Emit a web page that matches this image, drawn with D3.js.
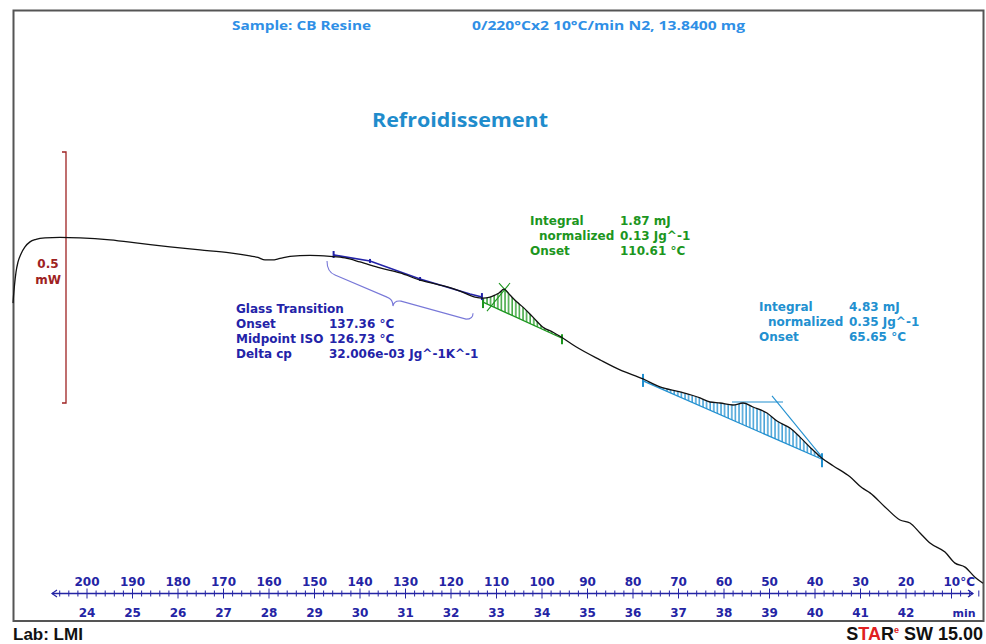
<!DOCTYPE html>
<html>
<head>
<meta charset="utf-8">
<script src="https://cdn.jsdelivr.net/npm/d3@7/dist/d3.min.js"></script>
<style>
  body { margin: 0; background: #fff; }
  svg { display: block; }
</style>
</head>
<body>
<svg id="chart" width="986" height="644"></svg>
<script>
// ---------------- DATA ----------------
// DSC cooling curve: time (min) vs heat flow (mW, arbitrary offset)
const timeMin = [22.374, 22.385, 22.407, 22.440, 22.484, 22.549, 22.637, 22.747, 22.879, 23.077,
  23.407, 23.846, 24.505, 25.165, 25.824, 26.484, 27.143, 27.582, 27.758, 27.912,
  28.066, 28.242, 28.462, 28.901, 29.341, 29.670, 30.000, 30.440, 30.879, 31.319,
  31.758, 32.198, 32.527, 32.703, 32.857, 32.967, 33.055, 33.165, 33.297, 33.451,
  33.582, 33.802, 34.022, 34.242, 34.396, 34.747, 35.275, 35.714, 36.220, 36.593,
  37.033, 37.473, 37.692, 37.912, 38.198, 38.418, 38.637, 38.945, 39.165, 39.451,
  39.670, 39.890, 40.154, 40.396, 40.769, 41.033, 41.209, 41.538, 41.868, 42.088,
  42.308, 42.527, 42.857, 43.077, 43.297, 43.516, 43.692];
const heatFlow = [0.199, 0.213, 0.235, 0.261, 0.281, 0.297, 0.311, 0.321, 0.326, 0.329,
  0.330, 0.329, 0.325, 0.318, 0.311, 0.305, 0.299, 0.293, 0.290, 0.285,
  0.285, 0.288, 0.292, 0.294, 0.292, 0.289, 0.281, 0.269, 0.259, 0.245,
  0.235, 0.223, 0.211, 0.209, 0.211, 0.215, 0.219, 0.227, 0.215, 0.201,
  0.191, 0.171, 0.151, 0.141, 0.133, 0.112, 0.086, 0.066, 0.048, 0.032,
  0.022, 0.010, 0.002, 0.000, -0.004, 0.000, -0.008, -0.020, -0.036, -0.050,
  -0.068, -0.088, -0.110, -0.125, -0.147, -0.169, -0.179, -0.207, -0.233, -0.239,
  -0.259, -0.279, -0.297, -0.319, -0.327, -0.347, -0.359];

// axis tick labels
const timeTickLabels = [24, 25, 26, 27, 28, 29, 30, 31, 32, 33, 34, 35, 36, 37, 38, 39, 40, 41, 42];
const tempTickLabels = [200, 190, 180, 170, 160, 150, 140, 130, 120, 110, 100, 90, 80, 70, 60, 50, 40, 30, 20, 10];

// header / title texts
const sampleText = "Sample: CB Resine";
const methodText = "0/220°Cx2 10°C/min N2, 13.8400 mg";
const titleText = "Refroidissement";

// glass transition evaluation
const gtLabels = ["Glass Transition", "Onset", "Midpoint ISO", "Delta cp"];
const gtValues = ["", "137.36 °C", "126.73 °C", "32.006e-03 Jg^-1K^-1"];
const gtLineT = [29.407, 30.220, 31.319, 32.418, 32.681];
const gtLineV = [0.295, 0.283, 0.247, 0.217, 0.211];
const gtMarkT = [29.42, 30.22, 31.32, 32.68];
const braceT = [29.275, 30.725, 32.484];   // left end, tip, right end
const braceV = [0.283, 0.193, 0.179];

// crystallisation peak 1 (green)
const pk1Labels = ["Integral", " normalized", "Onset"];
const pk1Values = ["1.87 mJ", "0.13 Jg^-1", "110.61 °C"];
const pk1BaseT = [32.703, 34.440];
const pk1BaseV = [0.201, 0.129];
const pk1TangentT = [33.297, 32.791];
const pk1TangentV = [0.239, 0.183];
const pk1CrossT = [33.055, 33.253];
const pk1CrossV = [0.239, 0.219];

// crystallisation peak 2 (light blue)
const pk2Labels = ["Integral", " normalized", "Onset"];
const pk2Values = ["4.83 mJ", "0.35 Jg^-1", "65.65 °C"];
const pk2BaseT = [36.220, 40.154];
const pk2BaseV = [0.044, -0.112];
const pk2HorizT = [38.176, 39.297];
const pk2HorizV = [0.002, 0.002];
const pk2TangentT = [39.055, 40.154];
const pk2TangentV = [0.014, -0.108];

const scaleBarValue = [0, 0.5];

// ---------------- SCALES ----------------
const svg = d3.select("#chart");
const x = d3.scaleLinear().domain([24, 42]).range([87, 906]);
const xT = d3.scaleLinear().domain([200, 10]).range([87, 951.5]);
const y = d3.scaleLinear().domain([0, 0.5]).range([403, 152]);
const curveAt = d3.scaleLinear().domain(timeMin).range(heatFlow);

const C_AXIS = "#2424a4", C_GT = "#2323a8", C_GREEN = "#1c961e", C_CYAN = "#2290d0", C_RED = "#9e2222";
const AFONT = "'DejaVu Sans', Verdana, sans-serif";

// pattern defs
const defs = svg.append("defs");
function hatch(id, color) {
  const p = defs.append("pattern").attr("id", id).attr("patternUnits", "userSpaceOnUse")
    .attr("width", 3.6).attr("height", 10);
  p.append("line").attr("x1", 1).attr("x2", 1).attr("y1", 0).attr("y2", 10)
    .attr("stroke", color).attr("stroke-width", 1.3);
}
hatch("hGreen", C_GREEN);
hatch("hCyan", C_CYAN);

// frame
svg.append("rect").attr("x", 13.5).attr("y", 10.5).attr("width", 970).attr("height", 610.5)
  .attr("fill", "none").attr("stroke", "#555").attr("stroke-width", 2);

// header & title
svg.append("text").attr("x", 232).attr("y", 30).attr("textLength", 139).attr("lengthAdjust", "spacingAndGlyphs")
  .attr("font-family", "'Open Sans', sans-serif").attr("font-weight", "bold").attr("font-size", 13)
  .attr("fill", "#2f8fe6").text(sampleText);
svg.append("text").attr("x", 472).attr("y", 30).attr("textLength", 273).attr("lengthAdjust", "spacingAndGlyphs")
  .attr("font-family", "'Open Sans', sans-serif").attr("font-weight", "bold").attr("font-size", 13)
  .attr("fill", "#2f8fe6").text(methodText);
svg.append("text").attr("x", 372).attr("y", 127).attr("textLength", 176).attr("lengthAdjust", "spacingAndGlyphs")
  .attr("font-family", "'Open Sans', sans-serif").attr("font-weight", "bold").attr("font-size", 19)
  .attr("fill", "#1f8ccc").text(titleText);

// scale bar
const sbx = 66;
svg.append("path")
  .attr("d", `M${sbx - 4},${y(scaleBarValue[1])}H${sbx}V${y(scaleBarValue[0])}H${sbx - 4}`)
  .attr("fill", "none").attr("stroke", C_RED).attr("stroke-width", 1.3);
svg.append("text").attr("x", 48).attr("y", 268).attr("text-anchor", "middle")
  .attr("font-family", AFONT).attr("font-weight", "bold").attr("font-size", 12).attr("fill", C_RED).text("0.5");
svg.append("text").attr("x", 48).attr("y", 284).attr("text-anchor", "middle")
  .attr("font-family", AFONT).attr("font-weight", "bold").attr("font-size", 12).attr("fill", C_RED).text("mW");

// hatched areas
function hatchArea(baseT, baseV, fillId) {
  const pts = [[x(baseT[0]), y(curveAt(baseT[0]))]];
  timeMin.forEach((t, i) => { if (t > baseT[0] && t < baseT[1]) pts.push([x(t), y(heatFlow[i])]); });
  pts.push([x(baseT[1]), y(curveAt(baseT[1]))]);
  pts.push([x(baseT[1]), y(baseV[1])]);
  pts.push([x(baseT[0]), y(baseV[0])]);
  svg.append("path").attr("d", d3.line()(pts) + "Z").attr("fill", `url(#${fillId})`).attr("stroke", "none");
}
hatchArea(pk1BaseT, pk1BaseV, "hGreen");
hatchArea(pk2BaseT, pk2BaseV, "hCyan");

function seg(ts, vs, color, w) {
  svg.append("line").attr("x1", x(ts[0])).attr("y1", y(vs[0])).attr("x2", x(ts[1])).attr("y2", y(vs[1]))
    .attr("stroke", color).attr("stroke-width", w || 1);
}
function vmark(t, v, color, up, down) {
  svg.append("line").attr("x1", x(t)).attr("x2", x(t)).attr("y1", y(v) - up).attr("y2", y(v) + down)
    .attr("stroke", color).attr("stroke-width", 2);
}

// green peak lines
seg(pk1BaseT, pk1BaseV, C_GREEN, 1.3);
seg(pk1TangentT, pk1TangentV, C_GREEN, 1.1);
seg(pk1CrossT, pk1CrossV, C_GREEN, 1.1);
vmark(pk1BaseT[0], pk1BaseV[0], C_GREEN, 3, 6);
vmark(pk1BaseT[1], pk1BaseV[1], C_GREEN, 4, 6);

// cyan peak lines
seg(pk2BaseT, pk2BaseV, C_CYAN, 1.3);
seg(pk2HorizT, pk2HorizV, C_CYAN, 1.1);
seg(pk2TangentT, pk2TangentV, C_CYAN, 1.1);
vmark(pk2BaseT[0], pk2BaseV[0], C_CYAN, 7, 6);
vmark(pk2BaseT[1], pk2BaseV[1], C_CYAN, 6, 8);

// glass transition line
svg.append("path")
  .attr("d", d3.line()(gtLineT.map((t, i) => [x(t), y(gtLineV[i])])))
  .attr("fill", "none").attr("stroke", C_GT).attr("stroke-width", 1.6);
gtMarkT.forEach((t, i) => {
  const v = d3.scaleLinear().domain(gtLineT).range(gtLineV)(t);
  vmark(t, v, C_GT, i === 0 || i === 3 ? 4 : 2, i === 0 || i === 3 ? 3 : 2);
});

// brace
(function () {
  const L = [x(braceT[0]), y(braceV[0])], M = [x(braceT[1]), y(braceV[1])], R = [x(braceT[2]), y(braceV[2])];
  const d = `M${L[0]},${L[1]} Q${L[0]},${L[1] + 11} ${L[0] + 8},${L[1] + 14}` +
    ` L${M[0] - 6},${M[1] - 9} Q${M[0]},${M[1] - 7} ${M[0]},${M[1]}` +
    ` Q${M[0] + 1},${M[1] - 6} ${M[0] + 8},${M[1] - 5}` +
    ` L${R[0] - 7},${R[1] + 6} Q${R[0]},${R[1] + 6} ${R[0]},${R[1]}`;
  svg.append("path").attr("d", d).attr("fill", "none").attr("stroke", "#7878d8").attr("stroke-width", 1.1);
})();

// main curve
svg.append("path")
  .attr("d", d3.line().curve(d3.curveMonotoneX).x((d, i) => x(timeMin[i])).y((d, i) => y(heatFlow[i]))(timeMin))
  .attr("fill", "none").attr("stroke", "#111").attr("stroke-width", 1.3);

// annotation texts
function textBlock(labels, values, lx, vx, y0, dy, color) {
  labels.forEach((l, i) => {
    const indent = l.startsWith(" ");
    svg.append("text").attr("x", indent ? lx + 9 : lx).attr("y", y0 + i * dy)
      .attr("font-family", AFONT).attr("font-weight", "bold").attr("font-size", 12).attr("fill", color)
      .text(l.trim());
    if (values[i]) svg.append("text").attr("x", vx).attr("y", y0 + i * dy)
      .attr("font-family", AFONT).attr("font-weight", "bold").attr("font-size", 12).attr("fill", color).text(values[i]);
  });
}
textBlock(gtLabels, gtValues, 236, 329, 313, 15, C_GT);
textBlock(pk1Labels, pk1Values, 530, 620, 225, 15, C_GREEN);
textBlock(pk2Labels, pk2Values, 759, 849, 311, 15, C_CYAN);

// bottom axis
const axY = 593.5;
const axG = svg.append("g");
axG.append("line").attr("x1", 52).attr("x2", 973).attr("y1", axY).attr("y2", axY)
  .attr("stroke", C_AXIS).attr("stroke-width", 1.3);
axG.append("path").attr("d", `M57,${axY - 3.5}L52,${axY}L57,${axY + 3.5}`).attr("fill", "none").attr("stroke", C_AXIS).attr("stroke-width", 1.2);
axG.append("path").attr("d", `M968,${axY - 3.5}L973,${axY}L968,${axY + 3.5}`).attr("fill", "none").attr("stroke", C_AXIS).attr("stroke-width", 1.2);
const minorT = d3.range(23.4, 43.61, 0.2);
minorT.forEach(t => {
  const major = Math.abs(t - Math.round(t)) < 1e-6;
  axG.append("line").attr("x1", x(t)).attr("x2", x(t))
    .attr("y1", axY - (major ? 5 : 3)).attr("y2", axY + (major ? 5 : 3))
    .attr("stroke", C_AXIS).attr("stroke-width", 1);
});
tempTickLabels.forEach((T, i) => {
  const last = i === tempTickLabels.length - 1;
  axG.append("text").attr("x", last ? xT(T) - 8 : xT(T)).attr("y", 586)
    .attr("text-anchor", last ? "start" : "middle")
    .attr("font-family", AFONT).attr("font-weight", "bold").attr("font-size", 12).attr("fill", C_AXIS)
    .text(last ? T + "°C" : T);
});
timeTickLabels.forEach(t => {
  axG.append("text").attr("x", x(t)).attr("y", 617).attr("text-anchor", "middle")
    .attr("font-family", AFONT).attr("font-weight", "bold").attr("font-size", 12).attr("fill", C_AXIS).text(t);
});
axG.append("text").attr("x", 964).attr("y", 617).attr("text-anchor", "middle")
  .attr("font-family", AFONT).attr("font-weight", "bold").attr("font-size", 11).attr("fill", C_AXIS).text("min");

// footer
svg.append("text").attr("x", 13).attr("y", 640).attr("font-family", "'Liberation Sans', Arial, sans-serif")
  .attr("font-weight", "bold").attr("font-size", 17).attr("fill", "#111").text("Lab: LMI");
const star = svg.append("text").attr("x", 983).attr("y", 640).attr("text-anchor", "end")
  .attr("font-family", "'Liberation Sans', Arial, sans-serif").attr("font-weight", "bold").attr("font-size", 18).attr("fill", "#111");
star.append("tspan").text("S");
star.append("tspan").attr("fill", "#e02020").text("TA");
star.append("tspan").text("R");
star.append("tspan").attr("fill", "#e02020").attr("font-size", 9).attr("dy", -7).text("e");
star.append("tspan").attr("dy", 7).text(" SW 15.00");
</script>
</body>
</html>
